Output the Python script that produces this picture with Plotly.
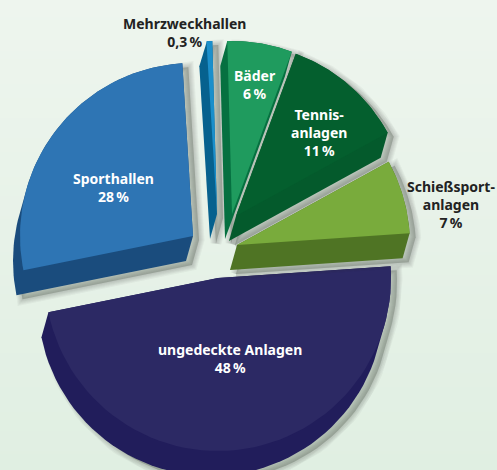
import numpy as np
import plotly.graph_objects as go

# Data, in drawing order (clockwise from the right-hand edge of the largest slice)
categories = ["ungedeckte Anlagen", "Sporthallen", "Mehrzweckhallen", "Bäder", "Tennisanlagen", "Schießsportanlagen"]
label_values = ["48\u2009%", "28\u2009%", "0,3\u2009%", "6\u2009%", "11\u2009%", "7\u2009%"]
label_names = ["ungedeckte Anlagen", "Sporthallen", "Mehrzweckhallen", "Bäder", "Tennis-<br>anlagen", "Schießsport-<br>anlagen"]
# Slice shares (percent of the circle)
shares = [47.9, 27.2, 0.55, 6.05, 11.4, 6.9]

# Styles / layout of the exploded pie
top_colors = ["#2c2964", "#2e75b4", "#1b8fcb", "#1f9b5e", "#045f2e", "#79ab3c"]
side_colors = ["#211d5b", "#1a4c7d", "#06618e", "#067040", "#045a2c", "#4f7424"]
apex_x = [218, 193, 217, 232, 236, 237]
apex_y = [278, 236, 214, 214, 216, 245]
label_x = [230, 113, 184, 255, 319, 451]
label_y = [358, 187, 32, 84, 132, 204]
label_colors = ["#ffffff", "#ffffff", "#222222", "#ffffff", "#ffffff", "#222222"]
RADIUS = 173
DEPTH = (-7, 25)
START_DEG = 3.9
SHADOW_OFFSET = (6, 4)


def hull(points):
    pts = sorted(set(map(tuple, np.round(points, 2).tolist())))
    def half(seq):
        out = []
        for p in seq:
            while len(out) > 1 and (out[-1][0]-out[-2][0])*(p[1]-out[-2][1]) - (out[-1][1]-out[-2][1])*(p[0]-out[-2][0]) <= 0:
                out.pop()
            out.append(p)
        return out[:-1]
    return np.array(half(pts) + half(pts[::-1]))


def wedge(cx, cy, a0, a1):
    t = np.radians(np.linspace(a0, a1, 60))
    xs = cx + RADIUS * np.cos(t)
    ys = cy - RADIUS * np.sin(t)
    return np.column_stack([np.r_[cx, xs], np.r_[cy, ys]])


def poly(pts, color):
    closed = np.vstack([pts, pts[:1]])
    return go.Scatter(x=closed[:, 0], y=closed[:, 1], mode="lines", fill="toself", fillcolor=color,
                      line=dict(color="rgba(0,0,0,0)", width=0),
                      hoverinfo="skip", showlegend=False)


fig = go.Figure()
# Background gradient
fig.add_trace(go.Heatmap(x=[0, 497], y=[0, 470], z=[[0, 0], [1, 1]], zsmooth="best", showscale=False,
                         colorscale=[[0, "#eef5ee"], [1, "#e0efe2"]], hoverinfo="skip"))

angle = START_DEG
for i, share in enumerate(shares):
    sweep = share * 3.6
    top = wedge(apex_x[i], apex_y[i], angle, angle - sweep)
    solid = hull(np.vstack([top, top + np.array(DEPTH)]))
    # soft drop shadow, built from widening translucent outlines
    shadow = solid + np.array(SHADOW_OFFSET)
    for w in (11, 9, 7, 5, 3, 1):
        fig.add_trace(go.Scatter(x=np.r_[shadow[:, 0], shadow[0, 0]], y=np.r_[shadow[:, 1], shadow[0, 1]],
                                 mode="lines", line=dict(color="rgba(45,55,40,0.045)", width=w),
                                 hoverinfo="skip", showlegend=False))
    fig.add_trace(poly(shadow, "rgba(45,55,40,0.25)"))
    fig.add_trace(poly(solid, side_colors[i]))
    fig.add_trace(poly(top, top_colors[i]))
    angle -= sweep

for i, name in enumerate(label_names):
    fig.add_annotation(x=label_x[i], y=label_y[i], xref="x", yref="y", showarrow=False,
                       text=f"{name}<br>{label_values[i]}", align="center",
                       font=dict(family="Noto Sans", size=14, color=label_colors[i], weight=700))

fig.update_layout(width=497, height=470, margin=dict(l=0, r=0, t=0, b=0),
                  paper_bgcolor="#e8f2e8", plot_bgcolor="rgba(0,0,0,0)", showlegend=False,
                  xaxis=dict(range=[0, 497], visible=False, fixedrange=True),
                  yaxis=dict(range=[470, 0], visible=False, fixedrange=True))
fig.write_html("out.html", config={"displayModeBar": False},
               post_script="document.body.style.margin='0';document.body.style.overflow='hidden';")
